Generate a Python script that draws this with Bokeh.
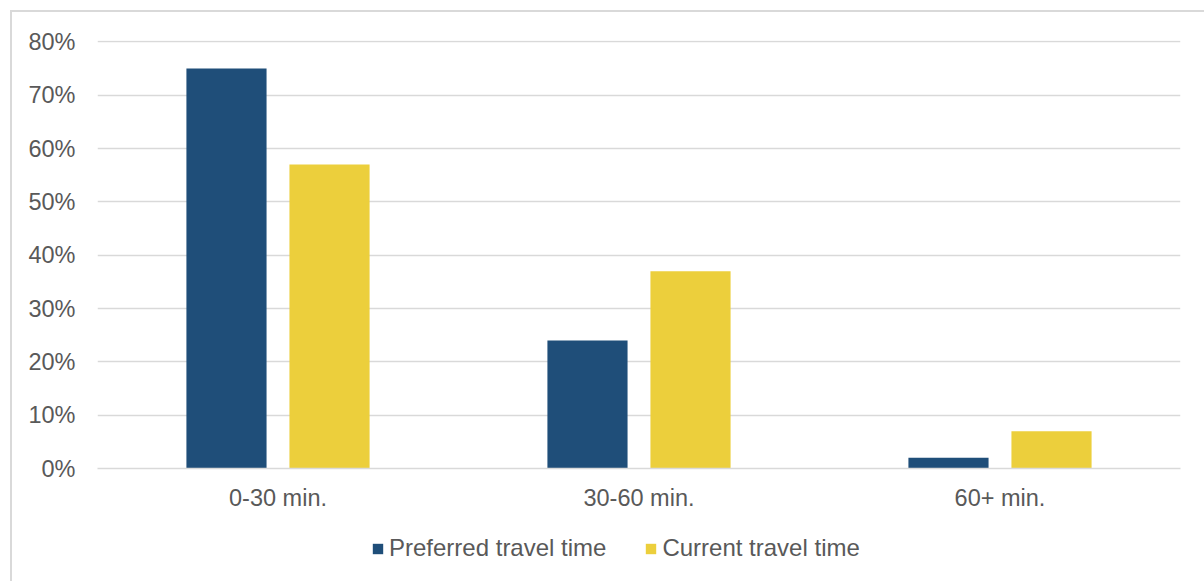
from bokeh.plotting import figure
from bokeh.layouts import column
from bokeh.models import (FactorRange, ColumnDataSource, Legend, LegendItem,
                          PrintfTickFormatter, FixedTicker, Range1d)
from bokeh.transform import dodge
from bokeh.embed import file_html
from bokeh.resources import INLINE

categories = ["0-30 min.", "30-60 min.", "60+ min."]
preferred = [75, 24, 2]
current = [57, 37, 7]
y_ticks = [0, 10, 20, 30, 40, 50, 60, 70, 80]
series_names = ["Preferred travel time", "Current travel time"]

NAVY = "#1F4E79"
YELLOW = "#ECCF3C"
TEXT = "#595959"
GRID = "#D9D9D9"
FONT = "Liberation Sans"
FS = "23.5px"
FS_LEG = "24px"

src = ColumnDataSource(dict(cat=categories, pref=preferred, cur=current))

W = 1192
H1 = 515
H2 = 54
p = figure(x_range=FactorRange(factors=categories, range_padding=0),
           y_range=(0, 80.25), width=W, height=H1,
           output_backend="svg", toolbar_location=None,
           min_border_left=85, min_border_right=W - 1168,
           min_border_top=28, min_border_bottom=H1 - 456)
p.outline_line_color = None
p.background_fill_color = "white"
p.border_fill_color = "white"

p.vbar(x=dodge("cat", -0.1427, range=p.x_range), top="pref", width=0.222,
       source=src, fill_color=NAVY, line_color=None)
p.vbar(x=dodge("cat", 0.1427, range=p.x_range), top="cur", width=0.222,
       source=src, fill_color=YELLOW, line_color=None)

p.xgrid.grid_line_color = None
p.ygrid.grid_line_color = GRID
p.ygrid.grid_line_width = 1.3
p.yaxis.ticker = FixedTicker(ticks=y_ticks)
p.yaxis.formatter = PrintfTickFormatter(format="%d%%")
p.yaxis.axis_line_color = None
p.yaxis.major_tick_line_color = None
p.yaxis.minor_tick_line_color = None
p.yaxis.major_label_standoff = 16

p.xaxis.axis_line_color = GRID
p.xaxis.axis_line_width = 1.5
p.xaxis.major_tick_line_color = None
p.xaxis.minor_tick_line_color = None
p.xaxis.major_label_standoff = 10

for ax in (p.xaxis, p.yaxis):
    ax.major_label_text_font = FONT
    ax.major_label_text_font_size = FS
    ax.major_label_text_color = TEXT

# legend strip below the chart
lf = figure(width=W, height=H2, x_range=Range1d(0, 1), y_range=Range1d(0, 1),
            output_backend="svg", toolbar_location=None,
            min_border=0, min_border_left=0, min_border_right=0,
            min_border_top=0, min_border_bottom=0)
lf.axis.visible = False
lf.grid.visible = False
lf.outline_line_color = None
lf.background_fill_color = "white"
lf.border_fill_color = "white"
offscreen = ColumnDataSource(dict(x=[-10], top=[-10]))
g1 = lf.vbar(x="x", top="top", width=0.1, source=offscreen, fill_color=NAVY, line_color=None)
g2 = lf.vbar(x="x", top="top", width=0.1, source=offscreen, fill_color=YELLOW, line_color=None)

legend = Legend(items=[LegendItem(label=series_names[0], renderers=[g1]),
                       LegendItem(label=series_names[1], renderers=[g2])],
                orientation="horizontal", location=(274, 19),
                glyph_width=13, glyph_height=13, label_standoff=5, spacing=38,
                padding=0, margin=0, border_line_color=None,
                background_fill_alpha=0,
                label_text_font=FONT, label_text_font_size=FS_LEG,
                label_text_color=TEXT)
lf.add_layout(legend, "center")

layout = column(p, lf, spacing=0,
                styles={"margin-left": "10px", "margin-top": "10px",
                        "border-left": "2px solid #D9D9D9",
                        "border-top": "2px solid #D9D9D9"})

open("out.html", "w").write(file_html(layout, INLINE))
